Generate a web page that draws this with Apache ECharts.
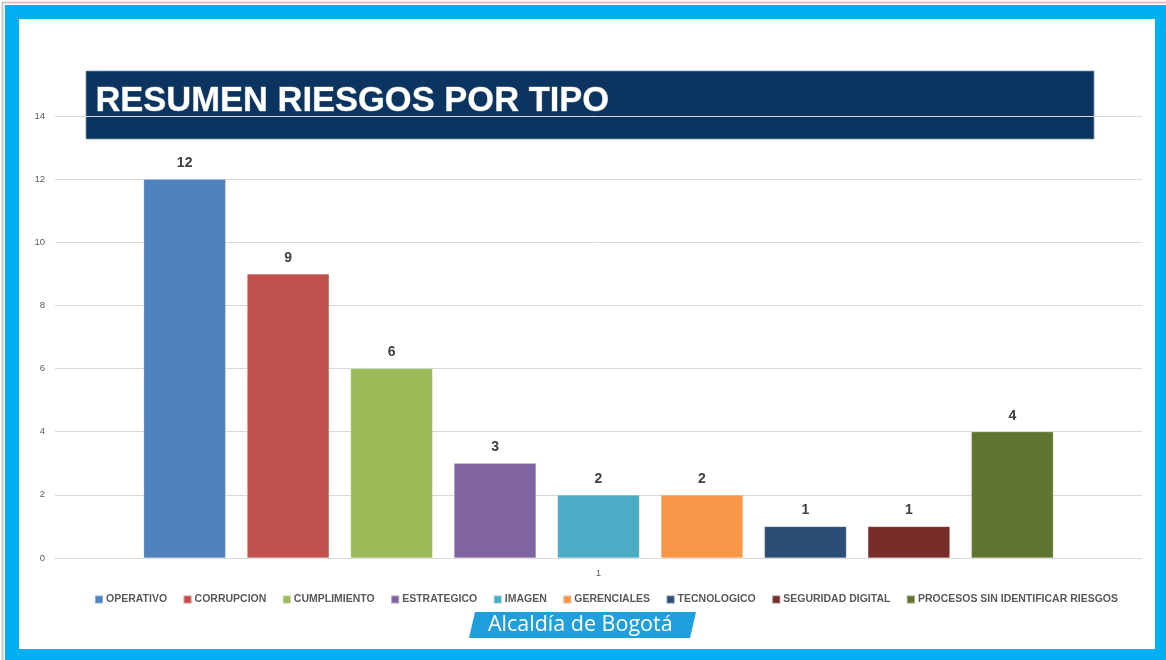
<!DOCTYPE html>
<html>
<head>
<meta charset="utf-8">
<script src="https://cdn.jsdelivr.net/npm/echarts@6/dist/echarts.min.js"></script>
<style>
html,body{margin:0;padding:0;background:#fff;}
#chart{width:1166px;height:660px;}
</style>
</head>
<body>
<div id="chart"></div>
<script>
// ---- data ----
const categories = ['1'];
const seriesNames = ['OPERATIVO','CORRUPCION','CUMPLIMIENTO','ESTRATEGICO','IMAGEN','GERENCIALES','TECNOLOGICO','SEGURIDAD DIGITAL','PROCESOS SIN IDENTIFICAR RIESGOS'];
const seriesValues = [12, 9, 6, 3, 2, 2, 1, 1, 4];
const seriesColors = ['#4F81BD','#C0504D','#9BBB59','#8064A2','#4BACC6','#F79646','#2C4D75','#772C2A','#5F7530'];
const yTicks = {min: 0, max: 14, interval: 2};
const titleText = 'RESUMEN RIESGOS POR TIPO';
const logoText = 'Alcaldía de Bogotá';

const chart = echarts.init(document.getElementById('chart'), null, {renderer: 'canvas'});

const series = seriesNames.map((name, i) => ({
  name: name,
  type: 'bar',
  data: [seriesValues[i]],
  barGap: '26%',
  barCategoryGap: '16.3%',
  itemStyle: {color: seriesColors[i], borderColor: 'rgba(255,255,255,0.35)', borderWidth: 0.6},
  label: {
    show: true, position: 'top', distance: 9,
    fontFamily: 'Liberation Sans', fontWeight: 'bold', fontSize: 14, color: '#404040'
  }
}));

const option = {
  backgroundColor: '#ffffff',
  animation: false,
  grid: {left: 55, right: 24, top: 116, bottom: 102, containLabel: false},
  xAxis: {
    type: 'category',
    data: categories,
    axisLine: {show: true, lineStyle: {color: '#D9D9D9', width: 1}},
    axisTick: {show: false},
    axisLabel: {color: '#595959', fontSize: 9, fontFamily: 'Liberation Sans', margin: 11}
  },
  yAxis: {
    type: 'value',
    min: yTicks.min, max: yTicks.max, interval: yTicks.interval,
    axisLine: {show: false},
    axisTick: {show: false},
    axisLabel: {color: '#595959', fontSize: 9.5, fontFamily: 'Liberation Sans', margin: 10},
    splitLine: {lineStyle: {color: '#D9D9D9', width: 1}}
  },
  legend: {
    bottom: 50, left: 89,
    itemWidth: 8, itemHeight: 8, itemGap: 15.5,
    icon: 'rect',
    textStyle: {color: '#595959', fontSize: 10.5, fontFamily: 'Liberation Sans', fontWeight: 'bold', padding: [0,0,0,-2]},
    data: seriesNames
  },
  graphic: [
    // outer frame
    {type: 'rect', z: -20, silent: true, shape: {x: 2.5, y: 2.5, width: 1170, height: 660}, style: {fill: null, stroke: '#C8C8C8', lineWidth: 2}},
    {type: 'rect', z: -19, silent: true, shape: {x: 5, y: 5, width: 1161, height: 14}, style: {fill: '#00B0F0'}},
    {type: 'rect', z: -19, silent: true, shape: {x: 5, y: 5, width: 14, height: 655}, style: {fill: '#00B0F0'}},
    {type: 'rect', z: -19, silent: true, shape: {x: 1155, y: 5, width: 11, height: 655}, style: {fill: '#00B0F0'}},
    {type: 'rect', z: -19, silent: true, shape: {x: 5, y: 649, width: 1161, height: 11}, style: {fill: '#00B0F0'}},
    // title banner
    {type: 'rect', z: -10, silent: true, shape: {x: 86, y: 71, width: 1008, height: 68}, style: {fill: '#0B3560', stroke: '#7F93A8', lineWidth: 0.8}},
    {type: 'text', z: -9, silent: true, left: 95, top: 84,
      style: {text: titleText, fill: '#FFFFFF', font: 'bold 34.5px "Liberation Sans", Arial, sans-serif',
        stroke: 'rgba(180,190,200,0.6)', lineWidth: 0.8}},
    // logo
    {type: 'polygon', z: 5, silent: true, shape: {points: [[475,612],[696,612],[690,638],[469,638]]}, style: {fill: '#1F9FDC'}},
    {type: 'text', z: 6, silent: true, left: 488, top: 614,
      style: {text: logoText, fill: '#FFFFFF', font: '21.5px "Open Sans", "Liberation Sans", sans-serif'}}
  ],
  series: series
};

chart.setOption(option);
</script>
</body>
</html>
